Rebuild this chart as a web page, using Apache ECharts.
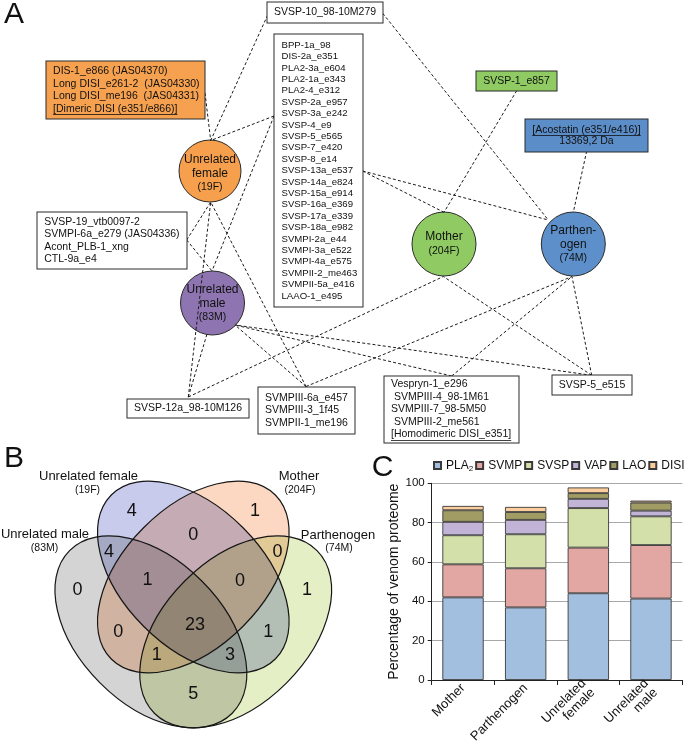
<!DOCTYPE html>
<html><head><meta charset="utf-8">
<script src="https://cdn.jsdelivr.net/npm/echarts@6/dist/echarts.min.js"></script>
<style>html,body{margin:0;padding:0;background:#fff}#c{width:685px;height:746px}</style>
</head><body><div id="c"></div>
<script>
// ================= DATA =================
// Panel C : venom composition (% of venom proteome)
const barCategories = ['Mother', 'Parthenogen', 'Unrelated\nfemale', 'Unrelated\nmale'];
const toxinFamilies = ['PLA2', 'SVMP', 'SVSP', 'VAP', 'LAO', 'DISI'];
const pla2Values = [42.0, 36.9, 44.1, 41.4];
const svmpValues = [16.8, 19.9, 23.2, 27.2];
const svspValues = [14.8, 17.3, 20.1, 14.6];
const vapValues  = [6.8, 7.3, 4.7, 2.9];
const laoValues  = [5.9, 4.0, 2.9, 4.1];
const disiValues = [2.2, 2.6, 2.9, 1.0];
const yTickLabels = [0, 20, 40, 60, 80, 100];
const yAxisTitle = 'Percentage of venom proteome';

// Panel A : individuals and protein groups
const individualIds = ['female', 'male', 'mother', 'parth'];
const individualLabels = [['Unrelated', 'female'], ['Unrelated', 'male'], ['Mother'], ['Parthen-', 'ogen']];
const individualCodes = ['(19F)', '(83M)', '(204F)', '(74M)'];

const groupIds = ['svsp10', 'shared', 'femaleOnly', 'motherOnly', 'parthOnly', 'femMale', 'svsp12', 'svmpiii', 'vespryn', 'svsp5'];
const groupTexts = [
  ['SVSP-10_98-10M279'],
  ['BPP-1a_98', 'DIS-2a_e351', 'PLA2-3a_e604', 'PLA2-1a_e343', 'PLA2-4_e312', 'SVSP-2a_e957', 'SVSP-3a_e242',
   'SVSP-4_e9', 'SVSP-5_e565', 'SVSP-7_e420', 'SVSP-8_e14', 'SVSP-13a_e537', 'SVSP-14a_e824', 'SVSP-15a_e914',
   'SVSP-16a_e369', 'SVSP-17a_e339', 'SVSP-18a_e982', 'SVMPI-2a_e44', 'SVMPI-3a_e522', 'SVMPI-4a_e575',
   'SVMPII-2_me463', 'SVMPII-5a_e416', 'LAAO-1_e495'],
  ['DIS-1_e866 (JAS04370)', 'Long DISI_e261-2  (JAS04330)', 'Long DISI_me196  (JAS04331)', '[Dimeric DISI (e351/e866)]'],
  ['SVSP-1_e857'],
  ['[Acostatin (e351/e416)]', '13369,2 Da'],
  ['SVSP-19_vtb0097-2', 'SVMPI-6a_e279 (JAS04336)', 'Acont_PLB-1_xng', 'CTL-9a_e4'],
  ['SVSP-12a_98-10M126'],
  ['SVMPIII-6a_e457', 'SVMPIII-3_1f45', 'SVMPII-1_me196'],
  ['Vespryn-1_e296', ' SVMPIII-4_98-1M61', 'SVMPIII-7_98-5M50', ' SVMPIII-2_me561', '[Homodimeric DISI_e351]'],
  ['SVSP-5_e515']
];
const underlinedLines = [['femaleOnly', 3], ['parthOnly', 0], ['vespryn', 4]];
const groupMembers = [
  ['female', 'parth'],
  ['female', 'male', 'mother', 'parth'],
  ['female'],
  ['mother'],
  ['parth'],
  ['female', 'male'],
  ['female', 'male', 'mother'],
  ['female', 'male', 'parth'],
  ['male', 'parth'],
  ['male', 'mother', 'parth']
];

// Panel B : Venn diagram
const vennSetNames = ['Unrelated male', 'Unrelated female', 'Mother', 'Parthenogen'];
const vennSetCodes = ['(83M)', '(19F)', '(204F)', '(74M)'];
const vennRegions = ['M', 'F', 'Mo', 'P', 'M&F', 'F&Mo', 'Mo&P', 'M&F&Mo', 'F&Mo&P', 'all', 'M&Mo', 'F&P', 'M&Mo&P', 'M&F&P', 'M&P'];
const vennCounts  = [0, 4, 1, 1, 4, 0, 0, 1, 0, 23, 0, 1, 1, 3, 5];

// ================= LAYOUT / STYLE =================
const FONT = "'Liberation Sans', Arial, Helvetica, sans-serif";
const barColors = ['#a3bfdf', '#e3a7a3', '#d3e0a9', '#c2b4d7', '#a09c63', '#fbcd9c'];

const NET = {
  circles: {
    female: {x: 210, y: 171, r: 31, color: '#f6a04e', off: 3},
    male:   {x: 212.5, y: 303, r: 32, color: '#8e74b0', off: 1},
    mother: {x: 444, y: 244, r: 32, color: '#8fcb62', off: 0},
    parth:  {x: 573.3, y: 244, r: 32, color: '#5d90cb', off: 1}
  },
  boxes: { // x1,y1,x2,y2
    svsp10: [267.5, 2.5, 382.5, 22.5], shared: [274.5, 34.5, 362.5, 306.5], femaleOnly: [46.5, 61.5, 204.5, 118.5],
    motherOnly: [476.5, 71.5, 556.5, 90.5], parthOnly: [525.5, 119.5, 647.5, 151.5], femMale: [37.5, 212.5, 186.5, 268.5],
    svsp12: [127.5, 399.5, 248.5, 417.5], svmpiii: [258.5, 387.5, 354.5, 433.5], vespryn: [384.5, 376.5, 518.5, 442.5],
    svsp5: [552.5, 375.5, 631.5, 394.5]
  },
  boxFill: {femaleOnly: '#f6a14f', motherOnly: '#8fcb62', parthOnly: '#5b8dc8'},
  boxAlign: {shared: 'left', femaleOnly: 'left', femMale: 'left', svmpiii: 'left', vespryn: 'left'},
  boxPad: {shared: 7, femaleOnly: 6.6, femMale: 6.7, svmpiii: 6.5, vespryn: 6.5},
  boxFont: {shared: 9.6},
  boxLine: {shared: 11.4, femaleOnly: 12.5, femMale: 12.3, svmpiii: 12.6, vespryn: 12.5, parthOnly: 11.7},
  groupAnchor: {
    svsp10: {female: [267.7, 15], parth: [382.7, 13.3]},
    shared: {female: [274, 116], male: [274, 116], mother: [362.7, 171], parth: [362.7, 171]},
    femaleOnly: {female: [205, 93]},
    motherOnly: {mother: [516.7, 90.7]},
    parthOnly: {parth: [586.7, 151]},
    femMale: {female: [186.7, 240], male: [186.7, 240]},
    svsp12: {all: [188.3, 397]},
    svmpiii: {all: [306, 386.5]},
    vespryn: {all: [451.7, 376]},
    svsp5: {all: [591.7, 375.3]}
  },
  indAnchor: {
    female: {svsp10: [210.7, 140.5], femaleOnly: [210.7, 140.5], shared: [210.7, 140.5], femMale: [210.7, 202], svsp12: [210.7, 202], svmpiii: [210.7, 202]},
    male: {shared: [212, 271], femMale: [212, 271], svsp12: [207, 334], svmpiii: [235, 325], vespryn: [235, 325], svsp5: [235, 325]},
    mother: {shared: [444, 212.3], motherOnly: [444, 212.3], svsp12: [443.3, 276.5], svsp5: [443.3, 276.5]},
    parth: {svsp10: [548.3, 220], shared: [548.3, 220], parthOnly: [573.3, 212.3], svmpiii: [572, 276.5], vespryn: [572, 276.5], svsp5: [572, 276.5]}
  }
};

const VENN = {
  ellipses: [ // male, female, mother, parthenogen ; rot in screen degrees (positive = clockwise)
    {cx: 150.9, cy: 631.9, a: 115, b: 72, rot: 45},
    {cx: 193.3, cy: 577, a: 116, b: 70, rot: 45},
    {cx: 193.3, cy: 577, a: 116, b: 70, rot: -45},
    {cx: 235.7, cy: 631.9, a: 115, b: 72, rot: -45}
  ],
  fills: ['#d4d4d4', '#c8cbeb', '#fcd8c3', '#e5efc5'],
  drawOrder: [0, 2, 1, 3],
  setLabelPos: [[45, 534, 44.5, 548.3], [88.5, 476, 87.5, 490], [299, 476, 300, 490], [338, 535, 339, 548.3]],
  countPos: [[77.5, 590], [131.7, 511], [255, 511], [307, 590], [109, 552], [193.3, 535], [277.6, 552],
             [147.5, 580], [240, 581.5], [195, 625], [118.3, 632.5], [268.3, 632.5], [156.7, 655], [230, 655], [193.3, 694]]
};

// ================= BUILD =================
const chart = echarts.init(document.getElementById('c'), null, {renderer: 'canvas', width: 685, height: 746});

const measureCtx = document.createElement('canvas').getContext('2d');
function textWidth(t, fs) { measureCtx.font = fs + 'px ' + FONT; return measureCtx.measureText(t).width; }

const famValues = [pla2Values, svmpValues, svspValues, vapValues, laoValues, disiValues];
const barSeries = toxinFamilies.map((f, i) => ({
  type: 'bar', name: f, stack: 'total', xAxisIndex: 0, yAxisIndex: 0,
  data: famValues[i], barWidth: '66%',
  itemStyle: {color: barColors[i], borderColor: '#3a3a3a', borderWidth: 0.9},
  silent: true
}));

// Network graph
const graphNodes = [];
const graphLinks = [];
const graphics = [];
groupIds.forEach((gid, gi) => {
  const b = NET.boxes[gid];
  const w = b[2] - b[0], h = b[3] - b[1];
  const left = NET.boxAlign[gid] === 'left';
  const fs = NET.boxFont[gid] || 10.5;
  const lh = NET.boxLine[gid] || 12.5;
  const n = groupTexts[gi].length;
  const pv = (h - n * lh) / 2;
  const px = left ? NET.boxPad[gid] : 2;
  graphNodes.push({
    name: gid, value: [left ? b[0] : (b[0] + b[2]) / 2, (b[1] + b[3]) / 2],
    symbol: 'rect', symbolSize: 0,
    label: {
      show: true, position: 'inside', align: left ? 'left' : 'center', verticalAlign: 'middle',
      formatter: () => groupTexts[gi].join('\n'),
      fontSize: fs, lineHeight: lh, color: '#111', fontFamily: FONT,
      backgroundColor: NET.boxFill[gid] || '#ffffff', borderColor: '#2a2a2a', borderWidth: 1,
      padding: [pv, px, pv, px], width: w - 2 * px
    }
  });
  groupMembers[gi].forEach(ind => {
    const ga = NET.groupAnchor[gid][ind] || NET.groupAnchor[gid].all;
    const ia = NET.indAnchor[ind][gid];
    graphNodes.push({name: gid + '>' + ind, value: ga, symbolSize: 0, label: {show: false}});
    graphNodes.push({name: ind + '<' + gid, value: ia, symbolSize: 0, label: {show: false}});
    graphLinks.push({source: gid + '>' + ind, target: ind + '<' + gid});
  });
});

// underlines
underlinedLines.forEach(([gid, li]) => {
  const gi = groupIds.indexOf(gid);
  const b = NET.boxes[gid];
  const fs = NET.boxFont[gid] || 10.5;
  const lh = NET.boxLine[gid] || 12.5;
  const lines = groupTexts[gi];
  const cy = (b[1] + b[3]) / 2;
  const lineY = Math.round(cy - lines.length * lh / 2 + lh * (li + 0.5) + fs * 0.5) + 0.5;
  const t = lines[li];
  const tw = textWidth(t, fs);
  let x1;
  if (NET.boxAlign[gid] === 'left') x1 = b[0] + (NET.boxPad[gid] || 5);
  else x1 = (b[0] + b[2]) / 2 - tw / 2;
  graphics.push({type: 'line', shape: {x1: x1, y1: lineY, x2: x1 + tw, y2: lineY}, style: {stroke: '#111', lineWidth: 0.8}, z: 100});
});

const individualSeries = {
  type: 'scatter', xAxisIndex: 1, yAxisIndex: 1, z: 1, silent: true,
  data: individualIds.map((id, i) => {
    const c = NET.circles[id];
    return {
      value: [c.x, c.y], symbol: 'circle', symbolSize: 2 * c.r,
      itemStyle: {color: c.color, borderColor: '#2a2a2a', borderWidth: 1, opacity: 1},
      label: {
        show: true, position: 'inside', offset: [0, c.off],
        formatter: () => individualLabels[i].map(s => '{n|' + s + '}').join('\n') + '\n{c|' + individualCodes[i] + '}',
        rich: {n: {fontSize: 12, lineHeight: 13.5, color: '#111', fontFamily: FONT, align: 'center'},
               c: {fontSize: 10.5, lineHeight: 14.5, color: '#111', fontFamily: FONT, align: 'center'}}
      }
    };
  })
};

const graphSeries = {
  type: 'graph', coordinateSystem: 'cartesian2d', xAxisIndex: 1, yAxisIndex: 1, z: 3,
  silent: true, roam: false,
  data: graphNodes, links: graphLinks,
  lineStyle: {color: '#1a1a1a', width: 1, type: [3, 2.2], opacity: 1, curveness: 0},
  emphasis: {disabled: true}
};

// Venn graphics (zrender rotation is counter-clockwise positive); multiply blend for overlaps
VENN.drawOrder.forEach(k => {
  const e = VENN.ellipses[k];
  graphics.push({type: 'ellipse', x: e.cx, y: e.cy, rotation: -e.rot * Math.PI / 180,
    shape: {cx: 0, cy: 0, rx: e.a, ry: e.b}, style: {fill: VENN.fills[k], stroke: null, blend: 'multiply'}, z: 10});
});
VENN.ellipses.forEach(e => {
  graphics.push({type: 'ellipse', x: e.cx, y: e.cy, rotation: -e.rot * Math.PI / 180,
    shape: {cx: 0, cy: 0, rx: e.a, ry: e.b}, style: {fill: 'none', stroke: '#161616', lineWidth: 1.2}, z: 11});
});
function txt(t, x, y, fs, extra) {
  return Object.assign({type: 'text', x: x, y: y, z: 20,
    style: {text: t, fontSize: fs, fontFamily: FONT, fill: '#111', align: 'center', verticalAlign: 'middle',
            textAlign: 'center', textVerticalAlign: 'middle'}}, extra || {});
}
vennSetNames.forEach((n, i) => {
  const p = VENN.setLabelPos[i];
  graphics.push(txt(n, p[0], p[1], 13));
  graphics.push(txt(vennSetCodes[i], p[2], p[3], 10.5));
});
vennCounts.forEach((v, i) => {
  const p = VENN.countPos[i];
  graphics.push(txt(String(v), p[0], p[1], 18));
});
// panel letters
graphics.push(txt('A', 14, 14.5, 30));
graphics.push(txt('B', 14, 459, 30));
graphics.push(txt('C', 382.5, 467.5, 30));

const option = {
  animation: false,
  textStyle: {fontFamily: FONT},
  grid: [
    {left: 431.7, top: 483.3, width: 250.6, height: 196.7, containLabel: false, outerBoundsMode: 'none'},
    {left: 0, top: 0, width: 685, height: 746, containLabel: false, outerBoundsMode: 'none'}
  ],
  legend: {
    data: toxinFamilies, top: 459.5, left: 433, width: 280, padding: 0, itemGap: 2,
    itemWidth: 7, itemHeight: 7, icon: 'rect', selectedMode: false,
    textStyle: {fontSize: 12, color: '#111', fontFamily: FONT,
      rich: {sub: {fontSize: 8, verticalAlign: 'bottom', padding: [6, 0, 0, 0], color: '#111', fontFamily: FONT}}},
    formatter: n => n === 'PLA2' ? 'PLA{sub|2}' : n
  },
  xAxis: [
    {type: 'category', gridIndex: 0, data: barCategories,
     axisLine: {lineStyle: {color: '#222', width: 1}},
     axisTick: {show: true, length: 5, inside: false, lineStyle: {color: '#222'}},
     axisLabel: {rotate: 45, fontSize: 13, color: '#111', fontFamily: FONT, margin: 6, interval: 0, hideOverlap: false},
     splitLine: {show: false}},
    {type: 'value', gridIndex: 1, min: 0, max: 685, show: false}
  ],
  yAxis: [
    {type: 'value', gridIndex: 0, min: yTickLabels[0], max: yTickLabels[yTickLabels.length - 1],
     interval: yTickLabels[1] - yTickLabels[0],
     axisLine: {show: true, lineStyle: {color: '#222', width: 1}},
     axisTick: {show: true, length: 4, inside: false, lineStyle: {color: '#222'}},
     axisLabel: {fontSize: 11.5, color: '#111', fontFamily: FONT, margin: 7},
     splitLine: {show: true, lineStyle: {color: '#a8a8a8', width: 1}},
     name: yAxisTitle, nameLocation: 'middle', nameGap: 21,
     nameTextStyle: {fontSize: 14, color: '#111', fontFamily: FONT}},
    {type: 'value', gridIndex: 1, min: 0, max: 746, inverse: true, show: false}
  ],
  series: barSeries.concat([individualSeries, graphSeries]),
  graphic: {elements: graphics}
};
chart.setOption(option);
</script></body></html>
